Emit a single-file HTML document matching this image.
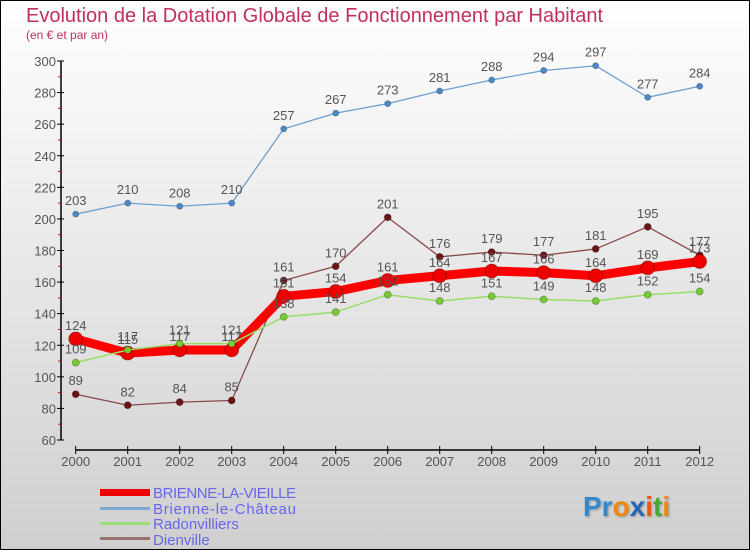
<!DOCTYPE html>
<html><head><meta charset="utf-8"><style>
body{margin:0}
#c{width:750px;height:550px;position:relative;overflow:hidden;font-family:"Liberation Sans",sans-serif}
svg{display:block}
</style></head><body>
<div id="c">
<svg id="s" width="750" height="550" xmlns="http://www.w3.org/2000/svg">
<defs><linearGradient id="bg" x1="0" y1="0" x2="0" y2="1"><stop offset="0" stop-color="#ffffff"/><stop offset="1" stop-color="#cfcfcf"/></linearGradient>
<filter id="sh"><feDropShadow dx="1" dy="1" stdDeviation="1" flood-color="#000" flood-opacity="0.3"/></filter></defs>
<rect x="0.5" y="0.5" width="749" height="549" fill="url(#bg)" stroke="#000"/>
<text x="26" y="22" font-size="20" fill="#c0305a">Evolution de la Dotation Globale de Fonctionnement par Habitant</text>
<text x="26" y="39" font-size="12" fill="#c0305a">(en € et par an)</text>
<g id="axes"></g><g id="series"></g>
<g>
<rect x="100" y="489" width="50" height="7" fill="#e00"/>
<text x="153" y="498" font-size="15" fill="#6666ee" textLength="143">BRIENNE-LA-VIEILLE</text>
<rect x="100" y="507" width="50" height="3" fill="#7aa8d0"/>
<text x="153" y="514" font-size="15" fill="#6666ee" textLength="143">Brienne-le-Château</text>
<rect x="100" y="522" width="50" height="3" fill="#99dd77"/>
<text x="153" y="529" font-size="15" fill="#6666ee">Radonvilliers</text>
<rect x="100" y="537" width="50" height="3" fill="#997070"/>
<text x="153" y="545" font-size="15" fill="#6666ee">Dienville</text>
</g>
<g font-size="28" font-weight="bold" filter="url(#sh)">
<text x="583" y="516"><tspan fill="#3388cc">Pr</tspan><tspan fill="#ee8811">o</tspan><tspan fill="#2266bb">x</tspan><tspan fill="#ee5511">i</tspan><tspan fill="#44aa33">t</tspan><tspan fill="#ee8811">i</tspan></text>
</g>
</svg></div>
<script>
const years=["2000","2001","2002","2003","2004","2005","2006","2007","2008","2009","2010","2011","2012"];
const yTicks=[60,80,100,120,140,160,180,200,220,240,260,280,300];
const brienneVieille=[124,115,117,117,151,154,161,164,167,166,164,169,173];
const brienneChateau=[203,210,208,210,257,267,273,281,288,294,297,277,284];
const radonvilliers=[109,117,121,121,138,141,152,148,151,149,148,152,154];
const dienville=[89,82,84,85,161,170,201,176,179,177,181,195,177];
const NS="http://www.w3.org/2000/svg";
const X=i=>75.7+i*52;
const Y=v=>440-(v-60)*(379/240);
function mk(tag,at,parent){const e=document.createElementNS(NS,tag);for(const k in at)e.setAttribute(k,at[k]);parent.appendChild(e);return e;}
const ax=document.getElementById('axes');
let e=mk('line',{x1:61,y1:Y(300),x2:61,y2:Y(60),stroke:'#000','stroke-width':1.5},ax);


yTicks.forEach(v=>{
 let t=mk('line',{x1:57,y1:Y(v),x2:64,y2:Y(v),stroke:'#000'},ax);
 
 
 if(v<300){let m=mk('line',{x1:58,y1:Y(v+10),x2:61,y2:Y(v+10),stroke:'#e00'},ax);
 
 }
 let l=mk('text',{x:56,y:Y(v)+5,'text-anchor':'end','font-size':13,fill:'#555'},ax);l.textContent=v;
 
 
});
e=mk('line',{x1:X(0),y1:450,x2:X(12),y2:450,stroke:'#000','stroke-width':1.5},ax);


years.forEach((y,i)=>{
 let t=mk('line',{x1:X(i),y1:446,x2:X(i),y2:454,stroke:'#000'},ax);
 
 
 let l=mk('text',{x:X(i),y:466,'text-anchor':'middle','font-size':13,fill:'#555'},ax);l.textContent=y;
 
 
});
const sg=document.getElementById('series');
function series(vals,name,color,lw,r,dot){
 const g=mk('g',{},sg);
 
 
 mk('polyline',{points:vals.map((v,i)=>X(i)+','+Y(v)).join(' '),fill:'none',stroke:color,'stroke-width':lw,'stroke-linejoin':'round'},g);
 vals.forEach((v,i)=>{
  let c=mk('circle',{cx:X(i),cy:Y(v),r:r,fill:dot,stroke:'rgba(0,0,0,0.25)'},g);
  
  
  let l=mk('text',{x:X(i),y:Y(v)-9,'text-anchor':'middle','font-size':13,fill:'#555'},g);l.textContent=v;
  
  
 });
}
series(brienneChateau,'brienne-le-chateau','#6f9fd0',1.3,3,'#4a8acb');
series(dienville,'dienville','#8a4a4a',1.3,3.5,'#6a1515');
series(brienneVieille,'brienne-la-vieille','#ff0000',9,7,'#ee0000');
series(radonvilliers,'radonvilliers','#99dd66',1.5,3.5,'#77cc33');
</script>
</body></html>
